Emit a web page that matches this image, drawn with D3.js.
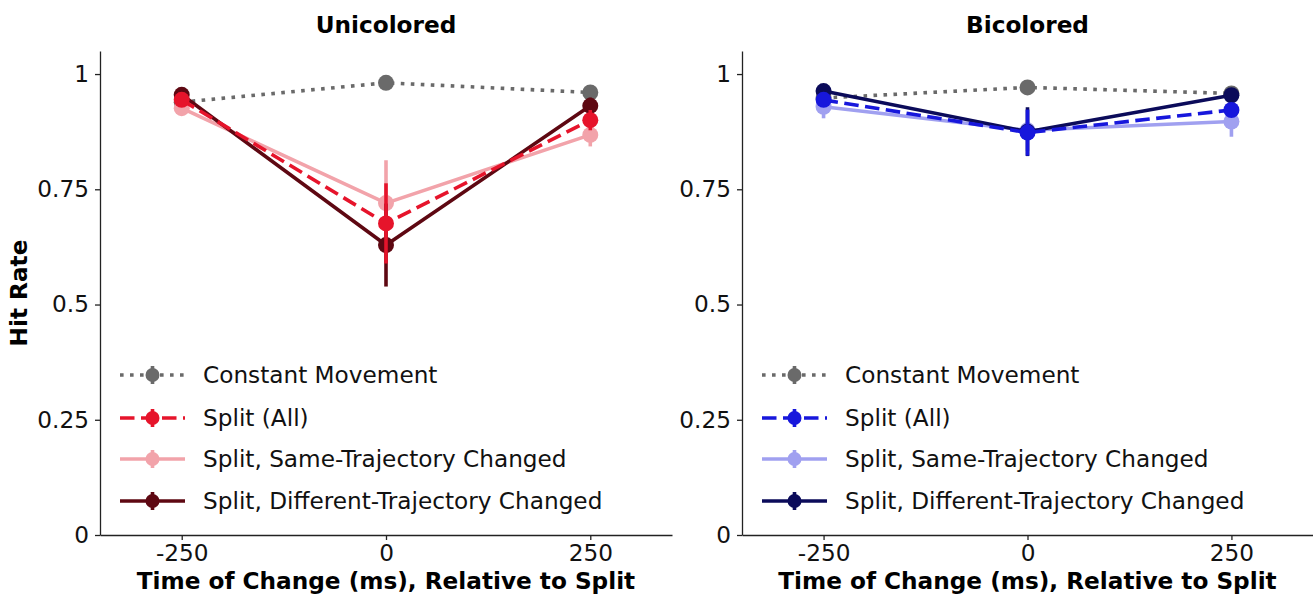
<!DOCTYPE html>
<html>
<head>
<meta charset="utf-8">
<script src="https://cdn.jsdelivr.net/npm/d3@7"></script>
<style>
  html, body { margin: 0; padding: 0; background: #fff; }
  svg { display: block; font-family: "DejaVu Sans", sans-serif; }
  .tick text { font-size: 23.2px; fill: #111; }
  .tick line, .domain { stroke: #222; stroke-width: 1.3; }
</style>
</head>
<body>
<div id="chart"></div>
<script>
/* ── data ──────────────────────────────────────────────────── */
const times      = [-250, 0, 250];
const xTickVals  = [-250, 0, 250];
const xTickText  = ['-250', '0', '250'];
const yTickVals  = [0, 0.25, 0.5, 0.75, 1];
const yTickText  = ['0', '0.25', '0.5', '0.75', '1'];
const seriesNames = [
  'Constant Movement',
  'Split (All)',
  'Split, Same-Trajectory Changed',
  'Split, Different-Trajectory Changed',
];

// Unicolored
const uniConstant     = [0.939, 0.981, 0.960];
const uniConstantErr  = [0.008, 0.006, 0.008];
const uniAll          = [0.944, 0.676, 0.900];
const uniAllErr       = [0.012, 0.087, 0.022];
const uniSame         = [0.926, 0.720, 0.868];
const uniSameErr      = [0.012, 0.093, 0.025];
const uniDiff         = [0.955, 0.629, 0.931];
const uniDiffErr      = [0.010, 0.090, 0.018];

// Bicolored
const biConstant      = [0.948, 0.971, 0.958];
const biConstantErr   = [0.008, 0.006, 0.008];
const biAll           = [0.944, 0.873, 0.922];
const biAllErr        = [0.015, 0.050, 0.015];
const biSame          = [0.929, 0.878, 0.897];
const biSameErr       = [0.025, 0.045, 0.033];
const biDiff          = [0.963, 0.875, 0.954];
const biDiffErr       = [0.012, 0.053, 0.012];

/* ── styles ────────────────────────────────────────────────── */
const uniColors = ['#6a6a6a', '#e6142b', '#f2a3aa', '#5e0812'];
const biColors  = ['#6a6a6a', '#1717dc', '#a0a0f0', '#0b0b5a'];
const dashes    = ['3.6,6.4', '14.5,6.5', null, null];
const drawOrder = [0, 2, 3, 1];

// ── layout ───────────────────────────────────────────────────
const W = 1313, H = 599;
const Y_TOP = 51, Y_BOT = 535;
const LW = 3.6, R = 8;
const FS = 23.2;

const svg = d3.select('#chart').append('svg')
  .attr('width', W).attr('height', H);

const y = d3.scaleLinear().domain([0, 1.05]).range([Y_BOT, Y_TOP]);

function drawPanel(opts) {
  const x = d3.scaleLinear().domain([-350, 350]).range([opts.left, opts.right]);
  const g = svg.append('g');

  // axes
  g.append('g')
    .attr('transform', `translate(0,${Y_BOT})`)
    .call(d3.axisBottom(x).tickValues(xTickVals).tickSize(5).tickPadding(5).tickSizeOuter(0)
      .tickFormat((d, i) => xTickText[i]))
    .call(a => a.selectAll('text').attr('font-family', 'DejaVu Sans'));

  g.append('g')
    .attr('transform', `translate(${opts.left},0)`)
    .call(d3.axisLeft(y).tickValues(yTickVals).tickSize(5).tickPadding(6).tickSizeOuter(0)
      .tickFormat((d, i) => yTickText[i]))
    .call(a => a.selectAll('text').attr('font-family', 'DejaVu Sans'));

  // title + x label
  g.append('text')
    .attr('x', x(0)).attr('y', 33)
    .attr('text-anchor', 'middle')
    .attr('font-size', FS).attr('font-weight', 'bold')
    .text(opts.title);

  g.append('text')
    .attr('x', x(0)).attr('y', 589)
    .attr('text-anchor', 'middle')
    .attr('font-size', FS).attr('font-weight', 'bold')
    .text('Time of Change (ms), Relative to Split');

  // series
  const line = d3.line().x(d => x(d.t)).y(d => y(d.v));

  for (const si of drawOrder) {
    const vals = opts.values[si], errs = opts.errors[si];
    const pts  = times.map((t, i) => ({ t, v: vals[i], e: errs[i] }));
    const col  = opts.colors[si];
    const sg   = g.append('g');

    sg.append('path')
      .datum(pts)
      .attr('d', line)
      .attr('fill', 'none')
      .attr('stroke', col)
      .attr('stroke-width', LW)
      .attr('stroke-dasharray', dashes[si]);

    sg.selectAll('line.err').data(pts).join('line')
      .attr('class', 'err')
      .attr('x1', d => x(d.t)).attr('x2', d => x(d.t))
      .attr('y1', d => y(d.v - d.e)).attr('y2', d => y(d.v + d.e))
      .attr('stroke', col).attr('stroke-width', LW);

    sg.selectAll('circle').data(pts).join('circle')
      .attr('cx', d => x(d.t)).attr('cy', d => y(d.v))
      .attr('r', R).attr('fill', col);
  }

  // legend
  const legRows = [375, 418, 459, 501];
  const lx0 = opts.left + 20, lx1 = opts.left + 85, lmid = (lx0 + lx1) / 2;
  seriesNames.forEach((name, i) => {
    const ly = legRows[i];
    const col = opts.colors[i];
    g.append('line')
      .attr('x1', lx0).attr('x2', lx1).attr('y1', ly).attr('y2', ly)
      .attr('stroke', col).attr('stroke-width', LW)
      .attr('stroke-dasharray', dashes[i]);
    g.append('line')
      .attr('x1', lmid).attr('x2', lmid).attr('y1', ly - 9).attr('y2', ly + 9)
      .attr('stroke', col).attr('stroke-width', LW);
    g.append('circle')
      .attr('cx', lmid).attr('cy', ly).attr('r', 7).attr('fill', col);
    g.append('text')
      .attr('x', opts.left + 103).attr('y', ly)
      .attr('dy', '0.35em')
      .attr('font-size', FS).attr('fill', '#111')
      .text(name);
  });
}

drawPanel({
  left: 100, right: 672, title: 'Unicolored', colors: uniColors,
  values: [uniConstant, uniAll, uniSame, uniDiff],
  errors: [uniConstantErr, uniAllErr, uniSameErr, uniDiffErr],
});

drawPanel({
  left: 742, right: 1313, title: 'Bicolored', colors: biColors,
  values: [biConstant, biAll, biSame, biDiff],
  errors: [biConstantErr, biAllErr, biSameErr, biDiffErr],
});

svg.append('text')
  .attr('transform', `translate(27,${(Y_TOP + Y_BOT) / 2}) rotate(-90)`)
  .attr('text-anchor', 'middle')
  .attr('font-size', FS).attr('font-weight', 'bold')
  .text('Hit Rate');
</script>
</body>
</html>
